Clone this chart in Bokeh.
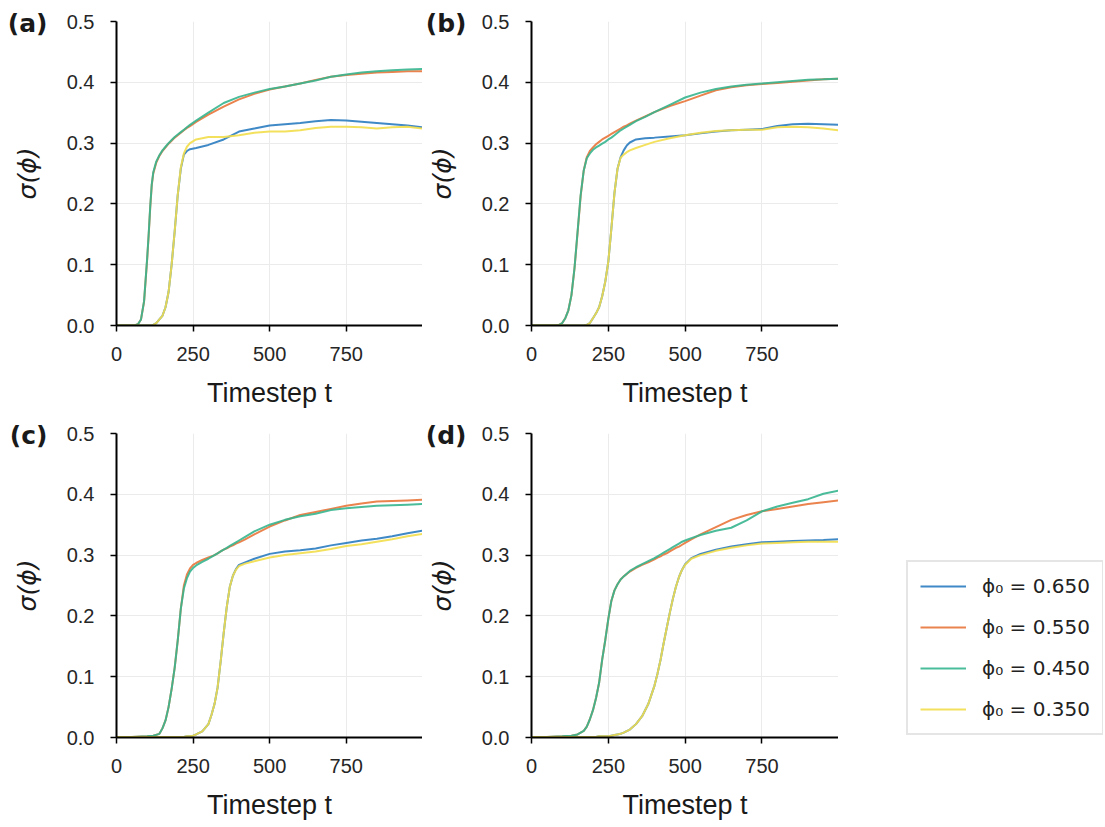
from bokeh.plotting import figure
from bokeh.layouts import column, row
from bokeh.models import (Legend, LegendItem, FixedTicker, Range1d, LinearAxis,
                          NumeralTickFormatter)
from bokeh.embed import file_html
from bokeh.resources import INLINE

# ---------------- data ----------------
SERIES_LABELS = ["ϕ₀ = 0.650", "ϕ₀ = 0.550", "ϕ₀ = 0.450", "ϕ₀ = 0.350"]
PANEL_TAGS = ["(a)", "(b)", "(c)", "(d)"]
X_LABEL = "Timestep t"
Y_LABEL = "σ(ϕ)"
X_TICKS = [0, 250, 500, 750]
Y_TICKS = [0.0, 0.1, 0.2, 0.3, 0.4, 0.5]

# panel (a)
T_A = [0, 50, 60, 70, 80, 90, 100, 105, 110, 115, 120, 130, 140, 150, 160, 170, 180, 190, 200,
       210, 220, 230, 240, 260, 300, 350, 400, 450, 500, 550, 600, 650, 700, 750, 800, 850, 900, 950, 999]
A_065 = [0, 0, 0, 0, 0, 0, 0, 0, 0, 0, 0.001, 0.004, 0.01, 0.016, 0.03, 0.055, 0.10, 0.155, 0.215,
         0.258, 0.281, 0.287, 0.290, 0.292, 0.297, 0.306, 0.319, 0.324, 0.329, 0.331, 0.333, 0.336,
         0.338, 0.337, 0.335, 0.333, 0.331, 0.329, 0.326]
A_055 = [0.0, 0.0, 0.0005, 0.002, 0.01, 0.039, 0.108, 0.148, 0.193, 0.230, 0.250, 0.268, 0.279, 0.287,
         0.293, 0.299, 0.304, 0.309, 0.313, 0.317, 0.321, 0.325, 0.328, 0.335, 0.347, 0.360, 0.372,
         0.381, 0.388, 0.393, 0.398, 0.404, 0.409, 0.412, 0.414, 0.416, 0.417, 0.418, 0.418]
A_045 = [0.0, 0.0, 0.0005, 0.002, 0.01, 0.04, 0.11, 0.15, 0.195, 0.232, 0.252, 0.27, 0.28, 0.288,
         0.294, 0.300, 0.305, 0.310, 0.314, 0.318, 0.322, 0.326, 0.330, 0.337, 0.350, 0.366, 0.376,
         0.383, 0.389, 0.393, 0.398, 0.403, 0.409, 0.413, 0.416, 0.418, 0.420, 0.421, 0.422]
A_035 = [0, 0, 0, 0, 0, 0, 0, 0, 0, 0, 0.001, 0.004, 0.01, 0.016, 0.03, 0.055, 0.10, 0.155, 0.215,
         0.26, 0.283, 0.294, 0.300, 0.306, 0.310, 0.310, 0.313, 0.317, 0.319, 0.319, 0.321, 0.325,
         0.327, 0.327, 0.326, 0.324, 0.326, 0.327, 0.324]

# panel (b)
T_B = [0, 50, 80, 90, 100, 110, 120, 130, 140, 150, 160, 170, 180, 190, 200, 210, 220, 230, 240, 250,
       260, 270, 280, 290, 300, 310, 320, 340, 370, 400, 450, 500, 550, 600, 650, 700, 750, 800, 850,
       900, 950, 999]
B_065 = [0, 0, 0, 0, 0, 0, 0, 0, 0, 0, 0, 0, 0.001, 0.004, 0.012, 0.02, 0.03, 0.048, 0.072, 0.105,
         0.16, 0.218, 0.258, 0.277, 0.288, 0.296, 0.301, 0.306, 0.308, 0.309, 0.311, 0.313, 0.316,
         0.319, 0.321, 0.322, 0.323, 0.328, 0.331, 0.332, 0.331, 0.330]
B_055 = [0, 0, 0, 0.001, 0.004, 0.012, 0.025, 0.05, 0.094, 0.153, 0.213, 0.255, 0.277, 0.287, 0.293,
         0.298, 0.302, 0.306, 0.309, 0.312, 0.315, 0.318, 0.321, 0.324, 0.327, 0.329, 0.332, 0.337,
         0.344, 0.351, 0.361, 0.369, 0.378, 0.387, 0.392, 0.395, 0.397, 0.399, 0.401, 0.403, 0.405, 0.406]
B_045 = [0, 0, 0, 0.001, 0.004, 0.012, 0.025, 0.05, 0.095, 0.155, 0.215, 0.255, 0.275, 0.283, 0.289,
         0.293, 0.296, 0.299, 0.302, 0.306, 0.309, 0.313, 0.317, 0.321, 0.324, 0.327, 0.330, 0.336,
         0.343, 0.351, 0.363, 0.375, 0.383, 0.389, 0.393, 0.396, 0.398, 0.400, 0.402, 0.404, 0.405, 0.406]
B_035 = [0, 0, 0, 0, 0, 0, 0, 0, 0, 0, 0, 0, 0.001, 0.004, 0.012, 0.02, 0.03, 0.048, 0.072, 0.105,
         0.16, 0.218, 0.258, 0.276, 0.281, 0.285, 0.288, 0.292, 0.297, 0.302, 0.308, 0.313, 0.317,
         0.320, 0.321, 0.322, 0.322, 0.326, 0.327, 0.326, 0.324, 0.321]

# panel (c)
T_C = [0, 50, 100, 120, 140, 150, 160, 170, 180, 190, 200, 210, 220, 230, 240, 250, 260, 280, 300,
       310, 320, 330, 340, 350, 360, 370, 380, 390, 400, 420, 450, 500, 550, 600, 650, 700, 750, 800,
       850, 900, 950, 999]
C_065 = [0.001, 0.001, 0.001, 0.001, 0.001, 0.001, 0.001, 0.001, 0.001, 0.001, 0.001, 0.001, 0.001,
         0.002, 0.002, 0.003, 0.005, 0.01, 0.022, 0.037, 0.055, 0.082, 0.125, 0.172, 0.215, 0.248,
         0.266, 0.277, 0.284, 0.288, 0.294, 0.302, 0.306, 0.308, 0.311, 0.316, 0.320, 0.324, 0.327,
         0.331, 0.336, 0.340]
C_055 = [0.001, 0.001, 0.002, 0.003, 0.006, 0.015, 0.028, 0.05, 0.08, 0.115, 0.16, 0.212, 0.25, 0.268,
         0.278, 0.284, 0.287, 0.292, 0.296, 0.298, 0.300, 0.303, 0.306, 0.309, 0.311, 0.314, 0.316,
         0.319, 0.321, 0.326, 0.334, 0.347, 0.357, 0.366, 0.371, 0.376, 0.381, 0.385, 0.388, 0.389,
         0.390, 0.391]
C_045 = [0.001, 0.001, 0.002, 0.003, 0.006, 0.015, 0.028, 0.05, 0.08, 0.115, 0.16, 0.212, 0.245, 0.262,
         0.273, 0.279, 0.283, 0.289, 0.294, 0.297, 0.300, 0.303, 0.306, 0.309, 0.312, 0.315, 0.318,
         0.321, 0.324, 0.330, 0.339, 0.350, 0.358, 0.364, 0.368, 0.374, 0.377, 0.379, 0.381, 0.382,
         0.383, 0.384]
C_035 = [0.001, 0.001, 0.001, 0.001, 0.001, 0.001, 0.001, 0.001, 0.001, 0.001, 0.001, 0.001, 0.001,
         0.002, 0.002, 0.003, 0.005, 0.01, 0.022, 0.037, 0.055, 0.082, 0.125, 0.172, 0.215, 0.248,
         0.266, 0.276, 0.282, 0.286, 0.290, 0.296, 0.300, 0.303, 0.306, 0.310, 0.315, 0.318, 0.322,
         0.326, 0.331, 0.335]

# panel (d)
T_D = [0, 50, 100, 130, 150, 170, 180, 190, 200, 210, 220, 230, 240, 250, 260, 270, 280, 290, 300,
       320, 340, 360, 380, 400, 410, 420, 430, 440, 450, 460, 470, 480, 490, 500, 520, 550, 600, 650,
       700, 750, 800, 850, 900, 950, 999]
D_065 = [0.001, 0.001, 0.001, 0.001, 0.001, 0.001, 0.001, 0.001, 0.001, 0.001, 0.002, 0.002, 0.002,
         0.002, 0.003, 0.004, 0.005, 0.006, 0.008, 0.013, 0.022, 0.035, 0.055, 0.085, 0.105, 0.128,
         0.155, 0.18, 0.205, 0.228, 0.248, 0.264, 0.276, 0.285, 0.295, 0.302, 0.309, 0.314, 0.318,
         0.321, 0.322, 0.323, 0.324, 0.325, 0.326]
D_055 = [0.001, 0.001, 0.002, 0.003, 0.005, 0.011, 0.018, 0.03, 0.045, 0.065, 0.09, 0.128, 0.16, 0.195,
         0.225, 0.242, 0.252, 0.26, 0.265, 0.273, 0.279, 0.284, 0.288, 0.293, 0.296, 0.298, 0.301,
         0.303, 0.306, 0.309, 0.312, 0.314, 0.317, 0.320, 0.326, 0.334, 0.346, 0.358, 0.366, 0.372,
         0.376, 0.380, 0.384, 0.387, 0.390]
D_045 = [0.001, 0.001, 0.002, 0.003, 0.005, 0.011, 0.018, 0.03, 0.045, 0.065, 0.09, 0.128, 0.16, 0.195,
         0.225, 0.242, 0.252, 0.26, 0.265, 0.274, 0.280, 0.285, 0.290, 0.295, 0.298, 0.301, 0.304,
         0.307, 0.310, 0.313, 0.316, 0.319, 0.322, 0.324, 0.328, 0.333, 0.340, 0.345, 0.357, 0.372,
         0.380, 0.386, 0.392, 0.401, 0.406]
D_035 = [0.001, 0.001, 0.001, 0.001, 0.001, 0.001, 0.001, 0.001, 0.001, 0.001, 0.002, 0.002, 0.002,
         0.002, 0.003, 0.004, 0.005, 0.006, 0.008, 0.013, 0.022, 0.035, 0.055, 0.085, 0.105, 0.128,
         0.155, 0.18, 0.205, 0.228, 0.248, 0.264, 0.276, 0.284, 0.294, 0.300, 0.307, 0.312, 0.316,
         0.319, 0.320, 0.321, 0.322, 0.322, 0.322]

PANELS = [
    (T_A, [A_065, A_055, A_045, A_035]),
    (T_B, [B_065, B_055, B_045, B_035]),
    (T_C, [C_065, C_055, C_045, C_035]),
    (T_D, [D_065, D_055, D_045, D_035]),
]

# ---------------- styling ----------------
COLORS = ["#2b7cc1", "#e8763a", "#36b58f", "#f2de4b"]
FRAME_H = 304
TOP1, BOT1 = 21, 95      # row 1 borders  -> height 420
TOP2, BOT2 = 13, 90      # row 2 borders  -> height 407
TICK_FONT = "Liberation Sans"
TEXT_COLOR = "#1a1a1a"
TAG_TICK = 0.496         # vertical anchor of the panel tag (just below the top of the frame)


def make_panel(idx, frame_w, left_border, top_border, bottom_border, tag_standoff):
    t, ys = PANELS[idx]
    p = figure(title=None, frame_width=frame_w, frame_height=FRAME_H,
               x_range=Range1d(0, 999), y_range=Range1d(0, 0.5),
               min_border_left=left_border, min_border_right=0,
               min_border_top=top_border, min_border_bottom=bottom_border,
               output_backend="svg", toolbar_location=None)
    p.outline_line_color = None
    p.background_fill_color = "white"
    p.border_fill_color = "white"

    for y, c in zip(ys, COLORS):
        p.line(t, y, line_color=c, line_width=2, line_alpha=0.9)

    xa, ya = p.xaxis[0], p.yaxis[0]
    for ax in (xa, ya):
        ax.axis_line_color = "black"
        ax.axis_line_width = 2
        ax.major_tick_line_color = "black"
        ax.major_tick_line_width = 1.5
        ax.major_tick_out = 6
        ax.major_tick_in = 0
        ax.minor_tick_line_color = None
        ax.major_label_text_font = TICK_FONT
        ax.major_label_text_font_size = "20px"
        ax.major_label_text_color = "#262626"
    xa.ticker = FixedTicker(ticks=X_TICKS)
    ya.ticker = FixedTicker(ticks=Y_TICKS)
    ya.formatter = NumeralTickFormatter(format="0.0")
    xa.major_label_standoff = 15
    ya.major_label_standoff = 16

    xa.axis_label = X_LABEL
    xa.axis_label_text_font = TICK_FONT
    xa.axis_label_text_font_style = "normal"
    xa.axis_label_text_font_size = "27px"
    xa.axis_label_text_color = TEXT_COLOR
    xa.axis_label_standoff = 14

    ya.axis_label = Y_LABEL
    ya.axis_label_text_font = "DejaVu Sans"
    ya.axis_label_text_font_style = "italic"
    ya.axis_label_text_font_size = "25px"
    ya.axis_label_text_color = TEXT_COLOR
    ya.axis_label_standoff = 22

    p.xgrid.grid_line_color = "#ebebeb"
    p.ygrid.grid_line_color = "#ebebeb"
    p.xgrid.grid_line_width = 1
    p.ygrid.grid_line_width = 1

    # panel tag "(a)" ... drawn as the single label of an outer, line-less left axis
    tag_axis = LinearAxis(ticker=FixedTicker(ticks=[TAG_TICK]),
                          major_label_overrides={TAG_TICK: PANEL_TAGS[idx]},
                          axis_line_color=None, major_tick_line_color=None,
                          minor_tick_line_color=None, major_tick_out=0, major_tick_in=0,
                          major_label_standoff=tag_standoff,
                          major_label_text_font="DejaVu Sans",
                          major_label_text_font_style="bold",
                          major_label_text_font_size="25px",
                          major_label_text_color=TEXT_COLOR)
    p.add_layout(tag_axis, "left")
    return p


pa = make_panel(0, 306, 116, TOP1, BOT1, -38)
pb = make_panel(1, 307, 109, TOP1, BOT1, -42)
pc = make_panel(2, 306, 116, TOP2, BOT2, -38)
pd = make_panel(3, 307, 109, TOP2, BOT2, -42)

# legend in its own strip right of panel (d), with the same vertical borders as the panels
LEG_W = 265
lf = figure(title=None, frame_width=LEG_W, frame_height=FRAME_H,
            x_range=Range1d(0, 1), y_range=Range1d(10, 11),
            x_axis_type=None, y_axis_type=None,
            min_border_left=0, min_border_right=0,
            min_border_top=TOP2, min_border_bottom=BOT2,
            output_backend="svg", toolbar_location=None)
lf.outline_line_color = None
lf.grid.visible = False
lf.background_fill_color = "white"
lf.border_fill_color = "white"
# the legend needs renderers of its own plot: panel (d)'s series, lying outside this strip's ranges
leg_rs = [lf.line(T_D, y, line_color=c, line_width=2, line_alpha=0.9)
          for y, c in zip(PANELS[3][1], COLORS)]
legend = Legend(items=[LegendItem(label=lbl, renderers=[r]) for lbl, r in zip(SERIES_LABELS, leg_rs)],
                location=(68, 2))
legend.glyph_width = 46
legend.glyph_height = 24
legend.label_height = 24
legend.spacing = 17
legend.padding = 12
legend.margin = 0
legend.label_standoff = 16
legend.label_text_font = "DejaVu Sans"
legend.label_text_font_size = "20px"
legend.label_text_color = "#222222"
legend.border_line_color = "#cccccc"
legend.border_line_width = 2
legend.background_fill_color = "white"
legend.background_fill_alpha = 1.0
lf.add_layout(legend)

layout = column(row(pa, pb), row(pc, pd, lf))
open("out.html", "w").write(file_html(layout, INLINE))
